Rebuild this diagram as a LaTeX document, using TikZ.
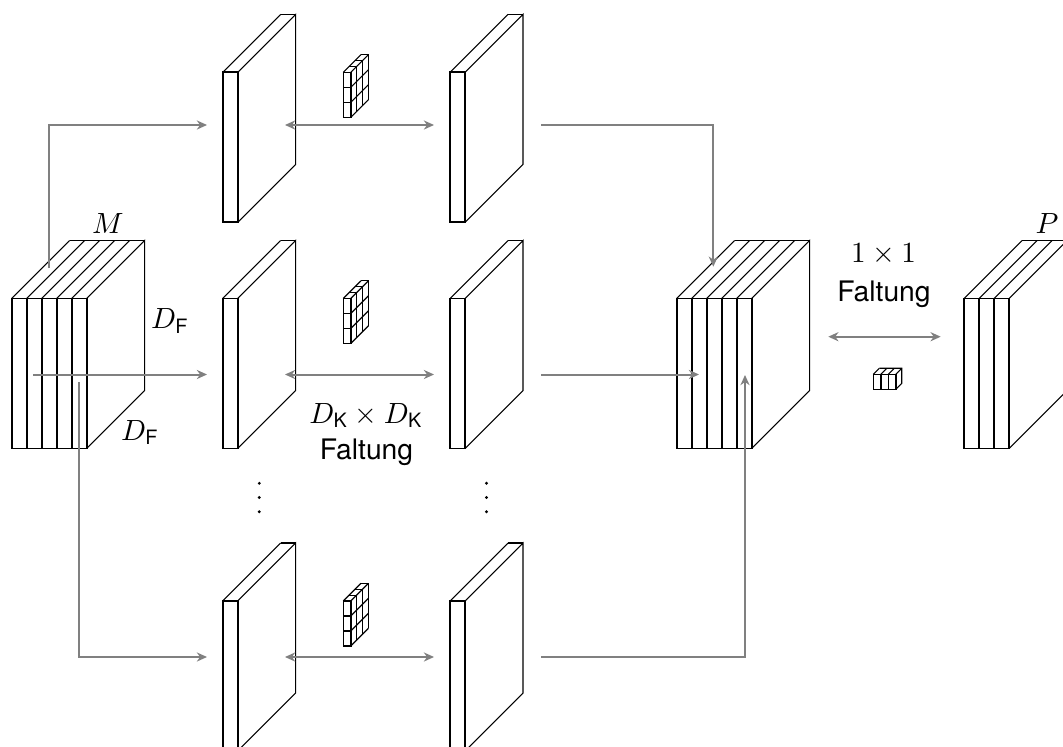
\documentclass[tikz,border=0pt]{standalone}
\usepackage{fontspec}
\setsansfont{TeX Gyre Heros}
\usetikzlibrary{arrows.meta}
\tikzset{
  front/.style={draw=black, line width=0.7pt},
  edge/.style={draw=black, line width=0.4pt},
  kfront/.style={draw=black, line width=0.6pt},
  kedge/.style={draw=black, line width=0.45pt},
  tip/.tip={Stealth[length=3.8pt,width=3.4pt,inset=1.2pt]},
  conn/.style={draw=black!50, line width=0.75pt, -tip},
  dconn/.style={draw=black!50, line width=0.75pt, tip-tip},
  lbl/.style={inner sep=0pt},
  vdot/.style={fill=black},
}
% stack of #3 slices, front top-left corner at (#1,#2), in pixel units
\newcommand\slabs[3]{%
  \foreach \i in {1,...,#3}{%
    \draw[front] ({#1+(\i-1)*15},{#2}) rectangle ++(15,150);
    \draw[edge] ({#1+(\i-1)*15},{#2}) -- ++(58,-58);
  }
  \draw[edge] ({#1+#3*15},{#2}) -- ++(58,-58) -- ++(0,150) -- ++(-58,58);
  \draw[edge] ({#1+58},{#2-58}) -- ({#1+#3*15+58},{#2-58});
}
% 3x3 kernel, front top-left at (#1,#2)
\newcommand\kthree[2]{%
  \draw[kfront] ({#1},{#2}) rectangle ++(7.5,45);
  \draw[kfront] ({#1},{#2+15}) -- ++(7.5,0);
  \draw[kfront] ({#1},{#2+30}) -- ++(7.5,0);
  \foreach \k in {1,2,3}{%
    \draw[kedge] ({#1+\k*5.9},{#2-\k*5.9}) -- ++(7.5,0);
    \draw[kedge] ({#1+7.5+\k*5.9},{#2-\k*5.9}) -- ++(0,45);
    \draw[kedge] ({#1+7.5},{#2+\k*15}) -- ++(17.7,-17.7);
  }
  \draw[kedge] ({#1},{#2}) -- ++(17.7,-17.7);
  \draw[kedge] ({#1+7.5},{#2}) -- ++(17.7,-17.7);
}
% 1x1 kernel (3 cells), front top-left at (#1,#2)
\newcommand\kone[2]{%
  \foreach \k in {0,1,2}{%
    \draw[kfront] ({#1+\k*7.5},{#2}) rectangle ++(7.5,15);
  }
  \foreach \k in {0,1,2,3}{%
    \draw[kedge] ({#1+\k*7.5},{#2}) -- ++(6,-6);
  }
  \draw[kedge] ({#1+6},{#2-6}) -- ({#1+28.5},{#2-6}) -- ++(0,15) -- ({#1+22.5},{#2+15});
}
% vertical dots centred at (#1,#2)
\newcommand\vdotcol[2]{%
  \foreach \k in {-1,0,1}{%
    \fill[vdot] ({#1},{#2+\k*14.2}) circle (1.6);
  }
}
\begin{document}
\begin{tikzpicture}[x=0.375pt, y=-0.375pt, font=\fontsize{10.6}{12.7}\selectfont]
  \useasboundingbox (0,0) rectangle (1063,747);
  \fill[white] (0,0) rectangle (1063,747);
  \clip (0,0) rectangle (1063,747);

  % input stack
  \slabs{11.7}{298.5}{5}
  % depthwise planes
  \slabs{222.7}{72.3}{1}
  \slabs{450}{72.3}{1}
  \slabs{222.7}{298.5}{1}
  \slabs{450}{298.5}{1}
  \slabs{222.7}{601}{1}
  \slabs{450}{601}{1}
  % intermediate stack
  \slabs{676.7}{298.5}{5}
  % output stack
  \slabs{964}{298.5}{3}

  % kernels
  \kthree{343.3}{72.3}
  \kthree{343.3}{298.5}
  \kthree{343.3}{601}
  \kone{873.3}{374.3}

  % vertical ellipses
  \vdotcol{259.3}{497.5}
  \vdotcol{486.5}{497.5}

  % labels
  \node[lbl] (lM) at (108,224) {$M$};
  \node[lbl] (lDF1) at (170,321) {$D_{\mathsf{F}}$};
  \node[lbl] (lDF2) at (140,432.5) {$D_{\mathsf{F}}$};
  \node[lbl] (lP) at (1047,224) {$P$};
  \node[lbl] (lDK) at (366,415.5) {$D_{\mathsf{K}}\times D_{\mathsf{K}}$};
  \node[lbl] (lF1) at (366.5,452.5) {\sffamily Faltung};
  \node[lbl] (l11) at (883.5,254) {$1\times 1$};
  \node[lbl] (lF2) at (884,294) {\sffamily Faltung};

  % connector end points
  \coordinate (s1) at (49,268);
  \coordinate (t1) at (207,125);
  \coordinate (s2) at (33.3,374.5);
  \coordinate (t2) at (207,374.5);
  \coordinate (s3) at (79,382);
  \coordinate (t3) at (207,657);
  \coordinate (m1a) at (285,125);
  \coordinate (m1b) at (434,125);
  \coordinate (m2a) at (285,374.5);
  \coordinate (m2b) at (434,374.5);
  \coordinate (m3a) at (285,657);
  \coordinate (m3b) at (434,657);
  \coordinate (r1a) at (541,125);
  \coordinate (r1b) at (713.3,266.7);
  \coordinate (r2a) at (541,374.5);
  \coordinate (r2b) at (699,374.5);
  \coordinate (r3a) at (541,657);
  \coordinate (r3b) at (745,375);
  \coordinate (o1) at (828.3,336.7);
  \coordinate (o2) at (940.7,336.7);

  % connectors
  \draw[conn] (s1) |- (t1);
  \draw[conn] (s2) -- (t2);
  \draw[conn] (s3) |- (t3);
  \draw[dconn] (m1a) -- (m1b);
  \draw[dconn] (m2a) -- (m2b);
  \draw[dconn] (m3a) -- (m3b);
  \draw[conn] (r1a) -| (r1b);
  \draw[conn] (r2a) -- (r2b);
  \draw[conn] (r3a) -| (r3b);
  \draw[dconn] (o1) -- (o2);
\end{tikzpicture}
\end{document}
